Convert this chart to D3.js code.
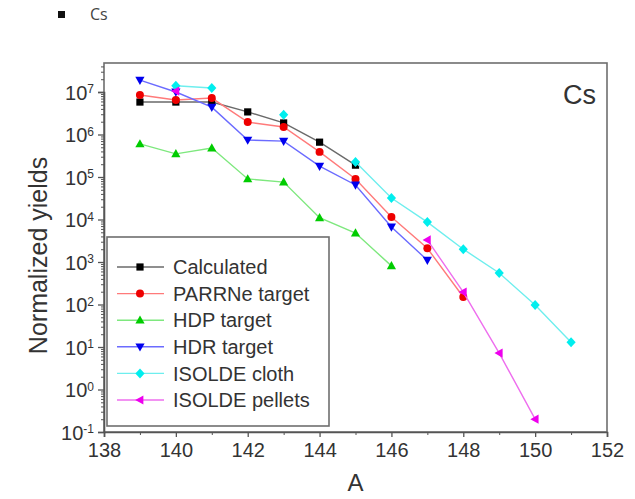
<!DOCTYPE html>
<html>
<head>
<meta charset="utf-8">
<script src="https://cdn.jsdelivr.net/npm/d3@7"></script>
<style>
  html, body { margin: 0; padding: 0; background: #fff; }
  svg { display: block; }
  text { font-family: "Liberation Sans", Arial, sans-serif; }
</style>
</head>
<body>
<svg id="chart" width="635" height="499"></svg>
<script>
// Mass numbers of the Cs isotopes
const massNumbers = [139, 140, 141, 142, 143, 144, 145, 146, 147, 148, 149, 150, 151];

// Normalized yields per target (null = not measured)
const calculated    = [5.8e6, 5.8e6, 5.8e6, 3.4e6, 1.87e6, 6.6e5, 1.9e5, null, null, null, null, null, null];
const parrneTarget  = [8.5e6, 6.5e6, 7.2e6, 1.96e6, 1.5e6, 3.9e5, 9.0e4, 1.15e4, 2.1e3, 150, null, null, null];
const hdpTarget     = [6.0e5, 3.5e5, 4.8e5, 9.0e4, 7.6e4, 1.1e4, 4.8e3, 8.1e2, null, null, null, null, null];
const hdrTarget     = [1.9e7, 1.0e7, 4.4e6, 7.4e5, 7.0e5, 1.8e5, 6.5e4, 6.7e3, 1.1e3, null, null, null, null];
const isoldeCloth   = [null, 1.4e7, 1.24e7, null, 2.9e6, null, 2.25e5, 3.2e4, 8.7e3, 2.0e3, 550, 97, 13];
const isoldePellets = [null, 1.05e7, null, null, null, null, null, null, 3.3e3, 196, 7.2, 0.2, null];

const seriesNames = ["Calculated", "PARRNe target", "HDP target", "HDR target", "ISOLDE cloth", "ISOLDE pellets"];
const seriesValues = [calculated, parrneTarget, hdpTarget, hdrTarget, isoldeCloth, isoldePellets];

// Axis ticks
const xTickValues = [138, 140, 142, 144, 146, 148, 150, 152];
const xMinorValues = [139, 141, 143, 145, 147, 149, 151];
const yExponents = [-1, 0, 1, 2, 3, 4, 5, 6, 7];

const element = "Cs";

// Styling per series
const styles = [
  { line: "#6a6a6a", fill: "#000000", shape: "square" },
  { line: "#ff7a7a", fill: "#ee0000", shape: "circle" },
  { line: "#7ee87e", fill: "#00cc00", shape: "up" },
  { line: "#6b6bff", fill: "#0000ee", shape: "down" },
  { line: "#6eeeee", fill: "#00eeee", shape: "diamond" },
  { line: "#ee6eee", fill: "#ee00ee", shape: "left" }
];

const svg = d3.select("#chart");
const frame = { left: 104, right: 607, top: 63, bottom: 432 };

const x = d3.scaleLinear().domain([138, 152]).range([frame.left, frame.right]);
const y = d3.scaleLog().domain([0.1, 1e7]).range([frame.bottom, 92]);

function markerPath(shape) {
  switch (shape) {
    case "square": return "M-3.6,-3.6H3.6V3.6H-3.6Z";
    case "circle": return d3.symbol(d3.symbolCircle, 50)();
    case "up": return "M0,-4.8L4.6,3.4H-4.6Z";
    case "down": return "M0,4.8L4.6,-3.4H-4.6Z";
    case "diamond": return "M0,-5L4.6,0L0,5L-4.6,0Z";
    case "left": return "M-4.8,0L3.4,-4.6V4.6Z";
  }
}

// Plot frame
svg.append("rect")
  .attr("x", frame.left).attr("y", frame.top)
  .attr("width", frame.right - frame.left).attr("height", frame.bottom - frame.top)
  .attr("fill", "none").attr("stroke", "#6e6e6e").attr("stroke-width", 1.6);

// X axis
const xAxis = svg.append("g").attr("transform", `translate(0,${frame.bottom})`)
  .call(d3.axisBottom(x).tickValues(xTickValues).tickFormat(d3.format("d")).tickSize(5).tickPadding(6));
svg.append("g").attr("transform", `translate(0,${frame.bottom})`)
  .call(d3.axisBottom(x).tickValues(xMinorValues).tickFormat("").tickSize(3))
  .call(g => g.select(".domain").remove());

// Y axis
const yAxis = svg.append("g").attr("transform", `translate(${frame.left},0)`)
  .call(d3.axisLeft(y).tickValues(yExponents.map(e => Math.pow(10, e))).tickSize(6).tickPadding(12));
const yMinor = [];
for (let e = -1; e <= 7; e++) {
  for (let k = 2; k <= 9; k++) {
    const v = k * Math.pow(10, e);
    if (y(v) >= frame.top + 2) yMinor.push(v);
  }
}
svg.append("g").attr("transform", `translate(${frame.left},0)`)
  .call(d3.axisLeft(y).tickValues(yMinor).tickFormat("").tickSize(3))
  .call(g => g.select(".domain").remove());

[xAxis, yAxis].forEach(g => {
  g.select(".domain").attr("stroke", "#555").attr("stroke-width", 1.6);
  g.selectAll(".tick line").attr("stroke", "#555").attr("stroke-width", 1.3);
  g.selectAll(".tick text").attr("fill", "#333").style("font-size", "20px");
});
svg.selectAll("g .tick line").attr("stroke", "#555");

// Power-of-ten labels on the y axis
yAxis.selectAll(".tick text").each(function (d) {
  const t = d3.select(this);
  const exp = Math.round(Math.log10(d));
  t.text(null).attr("x", -10).attr("dy", "0.36em");
  t.append("tspan").text("10");
  t.append("tspan").attr("dy", "-0.55em").style("font-size", "12px").text(exp);
});

// Axis titles
svg.append("text")
  .attr("transform", `translate(47,${(frame.top + frame.bottom) / 2 + 8}) rotate(-90)`)
  .attr("text-anchor", "middle").attr("fill", "#333").style("font-size", "25px")
  .text("Normalized yields");
svg.append("text")
  .attr("x", x(145)).attr("y", 491)
  .attr("text-anchor", "middle").attr("fill", "#333").style("font-size", "24px")
  .text("A");

// Element tag inside the plot
svg.append("text")
  .attr("x", 596).attr("y", 104)
  .attr("text-anchor", "end").attr("fill", "#333").style("font-size", "27px")
  .text(element);

// Header above the plot
svg.append("rect").attr("x", 58).attr("y", 11).attr("width", 7).attr("height", 7).attr("fill", "#111");
svg.append("text")
  .attr("x", 90).attr("y", 20)
  .attr("fill", "#444").style("font-family", "'Open Sans', sans-serif").style("font-size", "16px")
  .text(element);

// Series lines and markers
const line = d3.line()
  .defined(d => d.v != null)
  .x(d => x(d.a))
  .y(d => y(d.v));

seriesValues.forEach((vals, i) => {
  const pts = massNumbers.map((a, j) => ({ a, v: vals[j] }));
  const g = svg.append("g");
  g.append("path").datum(pts)
    .attr("d", line)
    .attr("fill", "none").attr("stroke", styles[i].line).attr("stroke-width", 1.4);
  g.selectAll("path.m").data(pts.filter(d => d.v != null)).join("path")
    .attr("class", "m")
    .attr("transform", d => `translate(${x(d.a)},${y(d.v)})`)
    .attr("d", markerPath(styles[i].shape))
    .attr("fill", styles[i].fill);
});

// Legend
const legend = svg.append("g");
legend.append("rect")
  .attr("x", 107).attr("y", 237).attr("width", 222).attr("height", 189)
  .attr("fill", "#fff").attr("stroke", "#6e6e6e").attr("stroke-width", 1.6);
seriesNames.forEach((name, i) => {
  const cy = 267 + i * 26.6;
  legend.append("line")
    .attr("x1", 117).attr("x2", 164).attr("y1", cy).attr("y2", cy)
    .attr("stroke", styles[i].line).attr("stroke-width", 1.4);
  legend.append("path")
    .attr("transform", `translate(140,${cy})`)
    .attr("d", markerPath(styles[i].shape))
    .attr("fill", styles[i].fill);
  legend.append("text")
    .attr("x", 173).attr("y", cy).attr("dy", "0.36em")
    .attr("fill", "#333").style("font-size", "20px")
    .text(name);
});
</script>
</body>
</html>
